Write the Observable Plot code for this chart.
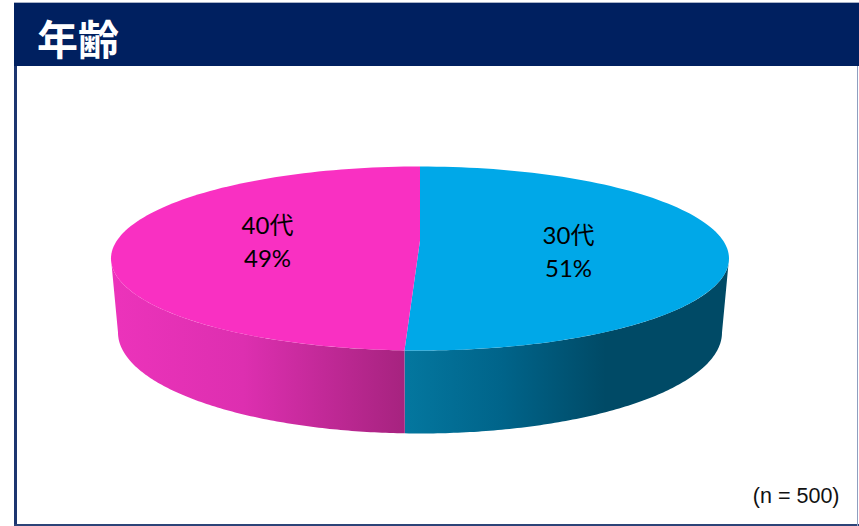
<!DOCTYPE html>
<html lang="ja">
<head>
<meta charset="utf-8">
<script src="https://cdn.jsdelivr.net/npm/d3@7"></script>
<script src="https://cdn.jsdelivr.net/npm/@observablehq/plot@0.6"></script>
<style>
html,body{margin:0;padding:0;background:#fff;}
#page{position:relative;width:859px;height:526px;overflow:hidden;background:#fff;}
#title{position:absolute;left:14px;top:3px;width:845px;height:63px;background:#002060;color:#fff;
  font:700 41px/68px "Noto Sans CJK JP",sans-serif;padding-left:23px;box-sizing:border-box;}
#topline{position:absolute;left:14px;top:2px;width:845px;height:1px;background:#a9b3c8;}
#chart{position:absolute;left:0;top:66px;}
#fl{position:absolute;left:14px;top:66px;width:3px;height:460px;background:#1c3570;}
#fb{position:absolute;left:14px;top:524px;width:845px;height:2px;background:#2c4378;}
#fr{position:absolute;left:857px;top:66px;width:1px;height:460px;background:#8f9fc0;}
</style>
</head>
<body>
<div id="page">
  <div id="topline"></div>
  <div id="title">年齢</div>
  <div id="chart"></div>
  <div id="fl"></div><div id="fb"></div><div id="fr"></div>
</div>
<script>
// Data
const titleText = "年齢";
const categories = ["30代", "40代"];
const counts = [254, 246];
const noteText = "(n = 500)";

// Colours
const topColors = ["#00a8e8", "#f930c2"];

// Pie shape in the chart's scale units
const top_ = {cx: 419.5, cy: 258, rx: 309, ry: 92};
const bottom_ = {cx: 419.5, cy: 332, rx: 302, ry: 101};
const apexY = 240;
const labelAt = [[568, 249.5], [267, 239.5]];

const total = d3.sum(counts);
const pie = d3.pie().sort(null).value(d => d)(counts);
const ring = (e, t) => ({x: e.cx + e.rx * Math.sin(t), y: e.cy - e.ry * Math.cos(t)});
const steps = (a, b) => d3.range(0, 121).map(i => a + (b - a) * i / 120);

// top wedges: apex, then the rim
const wedge = s => [{x: top_.cx, y: apexY}, ...steps(s.startAngle, s.endAngle).map(t => ring(top_, t))];
// side wall: visible lower half of the rim, down to the lower rim
const wall = (a, b) => [
  ...steps(a, b).map(t => ring(top_, t)),
  ...steps(b, a).map(t => ring(bottom_, t))
];
const split = pie[0].endAngle;
const rightWall = wall(Math.PI / 2, split);
const leftWall = wall(split, Math.PI * 1.5);

const area = (pts, fill) => Plot.line(pts, {x: "x", y: "y", fill, stroke: "none", curve: "linear"});

const defs = () => {
  const d = d3.create("svg:defs");
  const grad = (id, stops) => {
    const g = d.append("linearGradient").attr("id", id).attr("x1", 0).attr("x2", 1).attr("y1", 0).attr("y2", 0);
    stops.forEach(([o, c]) => g.append("stop").attr("offset", o).attr("stop-color", c));
  };
  grad("wallL", [[0, "#ec33bb"], [0.45, "#dd2fb0"], [1, "#a6237f"]]);
  grad("wallR", [[0, "#04779f"], [0.3, "#00648a"], [0.62, "#004a66"], [1, "#004a66"]]);
  return d.node();
};

const labels = categories.map((c, i) => ({
  text: `${c}\n${Math.round(counts[i] / total * 100)}%`,
  x: labelAt[i][0], y: labelAt[i][1]
}));

const plot = Plot.plot({
  width: 859,
  height: 460,
  margin: 0,
  x: {domain: [0, 859], range: [0, 859], axis: null},
  y: {domain: [66, 526], range: [0, 460], axis: null},
  style: {background: "transparent", fontFamily: 'Lato,"Noto Sans CJK JP",sans-serif'},
  marks: [
    defs,
    area(rightWall, "url(#wallR)"),
    area(leftWall, "url(#wallL)"),
    area(wedge(pie[0]), topColors[0]),
    area(wedge(pie[1]), topColors[1]),
    Plot.text(labels, {x: "x", y: "y", text: "text", fontSize: 24, lineHeight: 1.38, fill: "#000", textAnchor: "middle"}),
    Plot.text([noteText], {frameAnchor: "bottom-right", dx: -20, dy: -24, fontSize: 21.5, fill: "#111", fontFamily: '"Liberation Sans",Arial,sans-serif'})
  ]
});
document.getElementById("chart").appendChild(plot);
</script>
</body>
</html>
